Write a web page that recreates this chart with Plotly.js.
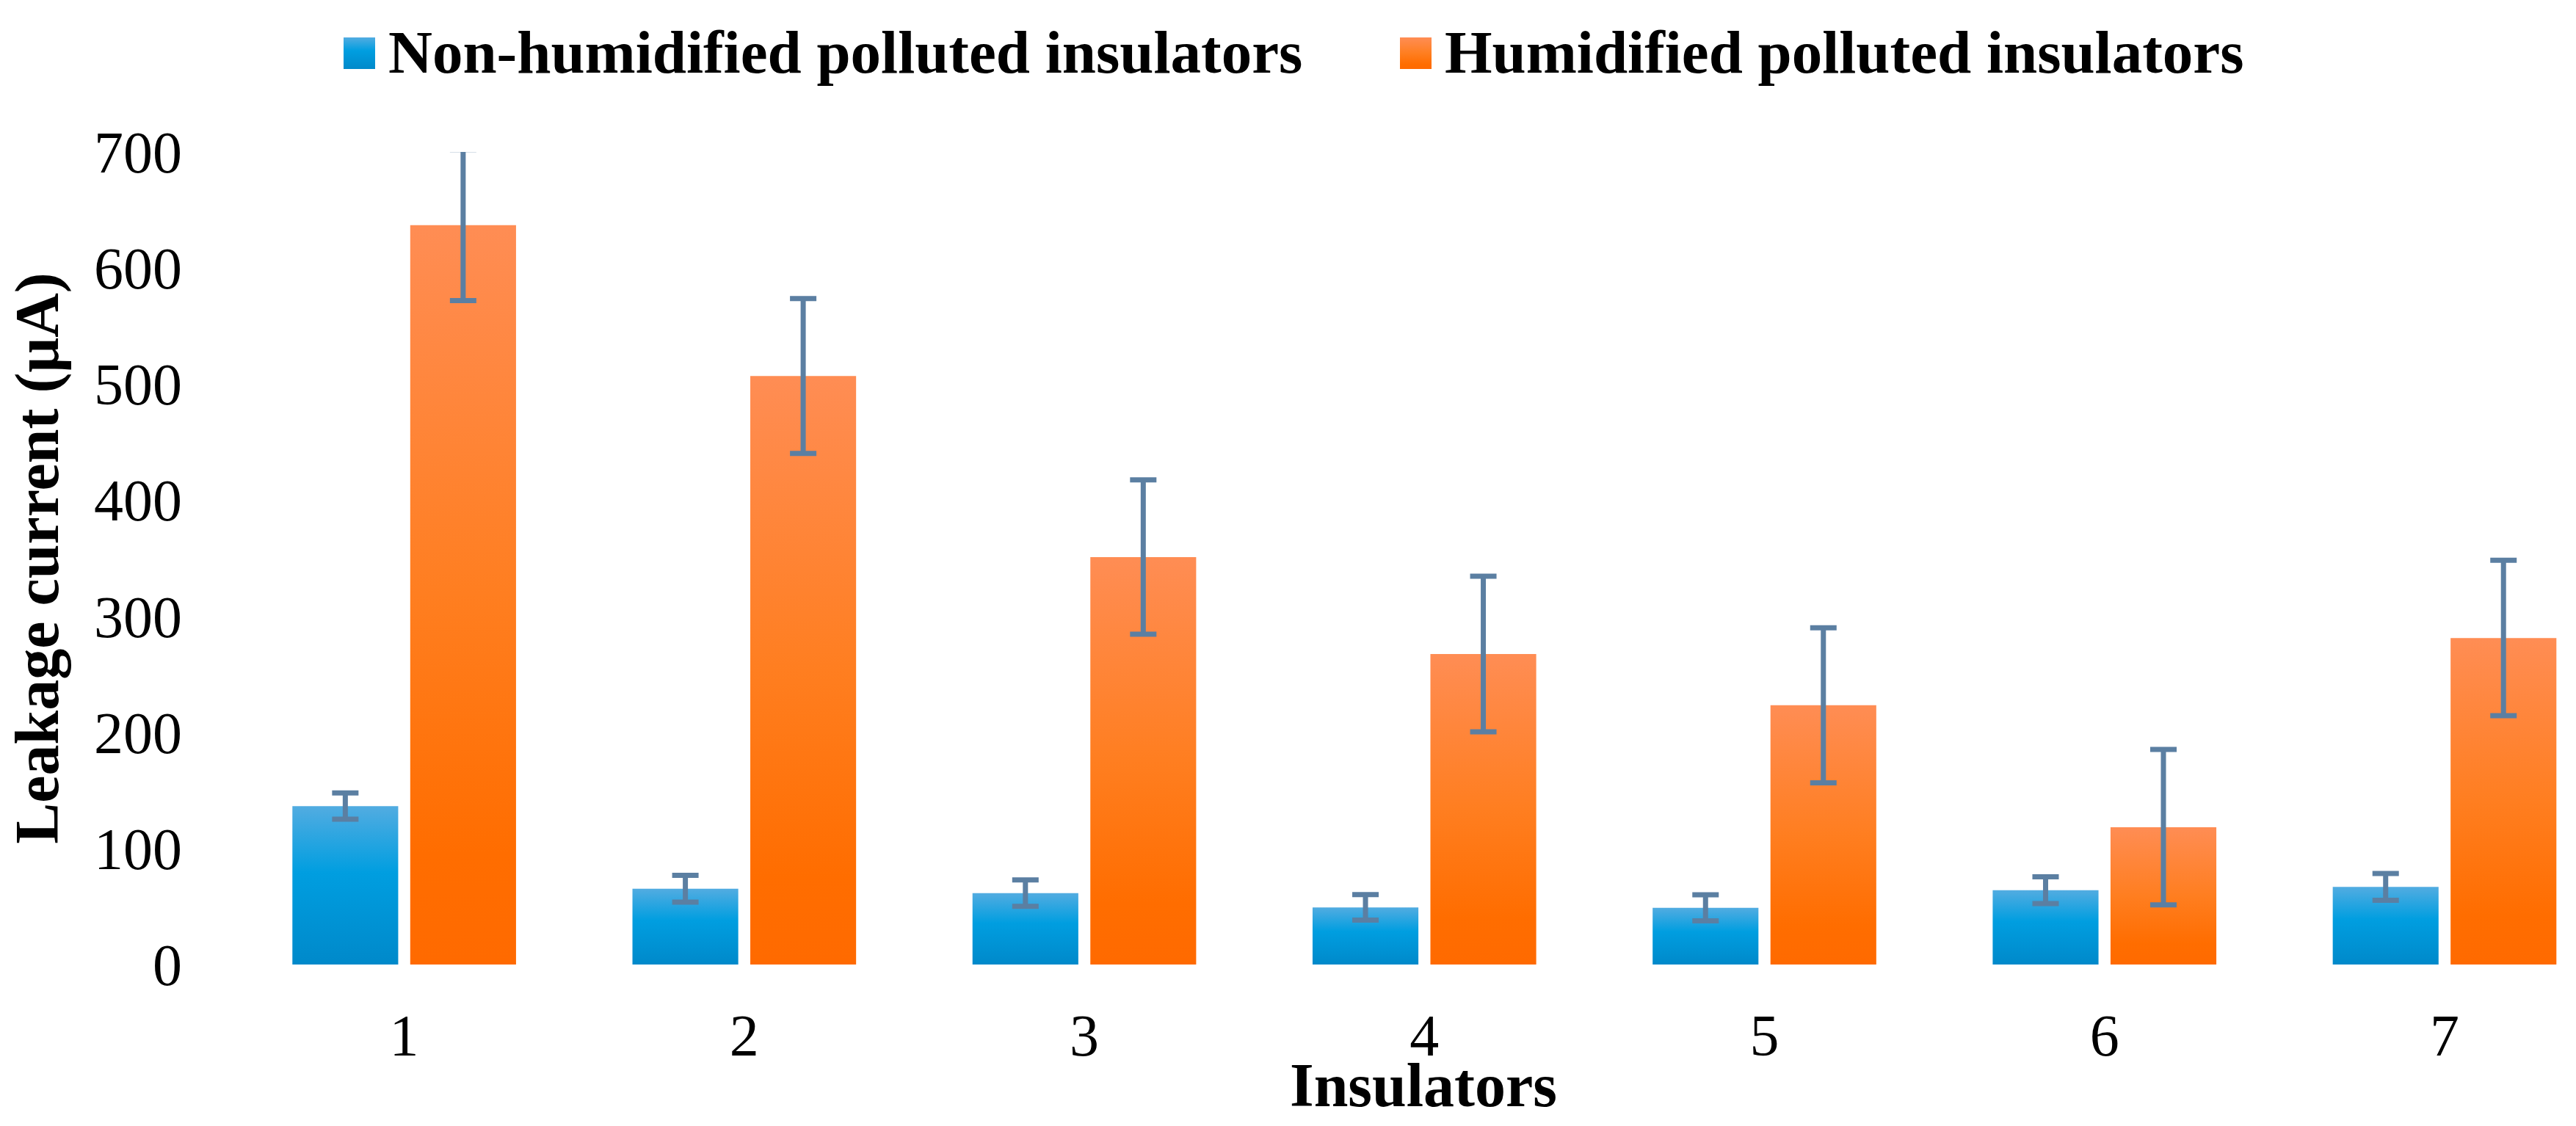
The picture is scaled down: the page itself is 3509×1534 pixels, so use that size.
<!DOCTYPE html>
<html>
<head>
<meta charset="utf-8">
<script src="https://cdn.plot.ly/plotly-3.0.1.min.js"></script>
<style>html,body{margin:0;padding:0;background:#fff;}#chart{width:3509px;height:1534px;}</style>
</head>
<body>
<div id="chart"></div>
<script>
const categories = ["1", "2", "3", "4", "5", "6", "7"];
const seriesNames = ["Non-humidified polluted insulators", "Humidified polluted insulators"];
const nonHumidified = [136.5, 65.3, 61.5, 49.2, 48.8, 64.0, 66.9];
const nonHumidifiedErr = [11.3, 11.5, 11.4, 11.0, 11.2, 11.5, 11.5];
const humidified = [637, 507, 351, 267.5, 223.3, 118.3, 281.3];
const humidifiedErr = [65, 66.7, 66.5, 67, 66.8, 67, 67];
const yTicks = [0, 100, 200, 300, 400, 500, 600, 700];

const TICK_FS = 80, TITLE_FS = 84, LEGEND_FS = 83;
const errStyle = {type: 'data', visible: true, color: '#5b7fa2', thickness: 7, width: 18};

const traces = [
  {type: 'bar', name: seriesNames[0], x: categories, y: nonHumidified,
   marker: {color: '#009ee0', line: {width: 0}},
   error_y: Object.assign({array: nonHumidifiedErr}, errStyle), cliponaxis: false},
  {type: 'bar', name: seriesNames[1], x: categories, y: humidified,
   marker: {color: '#ff7a1a', line: {width: 0}},
   error_y: Object.assign({array: humidifiedErr}, errStyle), cliponaxis: false}
];

const font = 'Liberation Serif, Times New Roman, serif';
const layout = {
  width: 3509, height: 1534, autosize: false,
  paper_bgcolor: '#fff', plot_bgcolor: '#fff',
  margin: {l: 319, r: 3, t: 207, b: 220, pad: 0, autoexpand: false},
  barmode: 'group', bargap: 0.307, bargroupgap: 0.102,
  font: {family: font, color: '#000'},
  showlegend: true,
  legend: {orientation: 'h', x: 0.045, xref: 'paper', xanchor: 'left', y: 0.954, yref: 'container', yanchor: 'middle',
           font: {family: font, size: LEGEND_FS, color: '#000', weight: 'bold'}, traceorder: 'normal',
           itemwidth: 60, entrywidth: 1400, entrywidthmode: 'pixels', bgcolor: 'rgba(0,0,0,0)'},
  xaxis: {type: 'category', range: [-0.5, 6.38], showgrid: false, zeroline: false, showline: false,
          ticks: '', tickfont: {family: font, size: TICK_FS, color: '#000'},
          title: {text: 'Insulators', font: {family: font, size: TITLE_FS, color: '#000', weight: 'bold'}, standoff: 40},
          automargin: false, fixedrange: true},
  yaxis: {range: [0, 700], tickvals: yTicks, ticktext: yTicks.map(String), showgrid: false, zeroline: false, showline: false,
          ticks: '', tickfont: {family: font, size: TICK_FS, color: '#000'}, ticklabelstandoff: 60,
          title: {text: 'Leakage current (μA)', font: {family: font, size: TITLE_FS, color: '#000', weight: 'bold'}, standoff: 14},
          automargin: false, fixedrange: true}
};

// targets (pixels)
const TARGET = {xtickBaseline: 1437.5, xtitleBaseline: 1507, xtitleCenter: 1939,
                ytickRight: 248, ytitleBaseline: 80,
                legendText1Left: 529, legendText2Left: 1968, legendBaseline: 99};

function shift(el, dx, dy) {
  el.setAttribute('transform', (el.getAttribute('transform') || '') + ' translate(' + dx + ',' + dy + ')');
}
const DESC = 0.216; // Liberation Serif descent (em)

function finish(gd) {
  const svg = gd.querySelector('svg.main-svg');
  const ns = 'http://www.w3.org/2000/svg';
  let defs = svg.querySelector('defs');
  if (!defs) { defs = document.createElementNS(ns, 'defs'); svg.insertBefore(defs, svg.firstChild); }
  function grad(id, stops) {
    const g = document.createElementNS(ns, 'linearGradient');
    g.setAttribute('id', id); g.setAttribute('x1', '0'); g.setAttribute('y1', '0');
    g.setAttribute('x2', '0'); g.setAttribute('y2', '1');
    stops.forEach(s => {
      const st = document.createElementNS(ns, 'stop');
      st.setAttribute('offset', s[0]); st.setAttribute('stop-color', s[1]);
      g.appendChild(st);
    });
    defs.appendChild(g);
  }
  grad('gradBlue', [[0, '#52ace1'], [0.42, '#009ee0'], [1, '#0089ca']]);
  grad('gradOrange', [[0, '#ff8d54'], [0.5, '#ff7e20'], [0.85, '#ff6d00'], [1, '#ff6a00']]);
  const ids = ['gradBlue', 'gradOrange'];
  gd.querySelectorAll('.barlayer .trace.bars').forEach((t, i) => {
    t.querySelectorAll('.point path').forEach(p => { p.style.fill = 'url(#' + ids[i] + ')'; });
  });

  // x tick labels: baseline as in the original
  gd.querySelectorAll('g.xtick text').forEach(t => {
    const r = t.getBoundingClientRect();
    shift(t, 0, TARGET.xtickBaseline - (r.bottom - DESC * TICK_FS));
  });
  // y tick labels: right edge
  gd.querySelectorAll('g.ytick text').forEach(t => {
    const r = t.getBoundingClientRect();
    shift(t, TARGET.ytickRight - r.right, 0);
  });
  // x title
  const xt = gd.querySelector('.g-xtitle text');
  if (xt) {
    const r = xt.getBoundingClientRect();
    shift(xt, TARGET.xtitleCenter - (r.left + r.right) / 2, TARGET.xtitleBaseline - (r.bottom - DESC * TITLE_FS));
  }
  // y title (rotated: descent is on the right)
  const yt = gd.querySelector('.g-ytitle text');
  if (yt) {
    const r = yt.getBoundingClientRect();
    const base = r.right - DESC * TITLE_FS;
    const g = yt.parentNode;
    shift(g, TARGET.ytitleBaseline - base, 0);
  }

  // legend placement
  gd.querySelectorAll('.legend .scrollbox').forEach(s => s.removeAttribute('clip-path'));
  const leg = gd.querySelector('g.legend');
  const items = gd.querySelectorAll('.legend .traces');
  if (leg && items.length) {
    const t1 = items[0].querySelector('text.legendtext').getBoundingClientRect();
    shift(leg, TARGET.legendText1Left - t1.left, TARGET.legendBaseline - (t1.bottom - DESC * LEGEND_FS));
    if (items[1]) {
      const t2 = items[1].querySelector('text.legendtext').getBoundingClientRect();
      shift(items[1], TARGET.legendText2Left - t2.left, 0);
    }
  }
  items.forEach((t, i) => {
    const txt = t.querySelector('text.legendtext');
    t.querySelectorAll('.legendpoints path').forEach(p => {
      p.style.fill = 'url(#' + ids[i] + ')';
      const tr = txt.getBoundingClientRect();
      const base = tr.bottom - DESC * LEGEND_FS;
      const pr = p.getBoundingClientRect();
      const cx = (pr.left + pr.right) / 2, cy = (pr.top + pr.bottom) / 2;
      const r = tr.left - 18 - cx, l = r - 43;
      const top = base - 48 - cy, bot = base - 5 - cy;
      p.setAttribute('d', 'M' + l + ',' + top + 'H' + r + 'V' + bot + 'H' + l + 'Z');
    });
  });
}

Plotly.newPlot('chart', traces, layout, {staticPlot: true, displayModeBar: false}).then(finish);
</script>
</body>
</html>
